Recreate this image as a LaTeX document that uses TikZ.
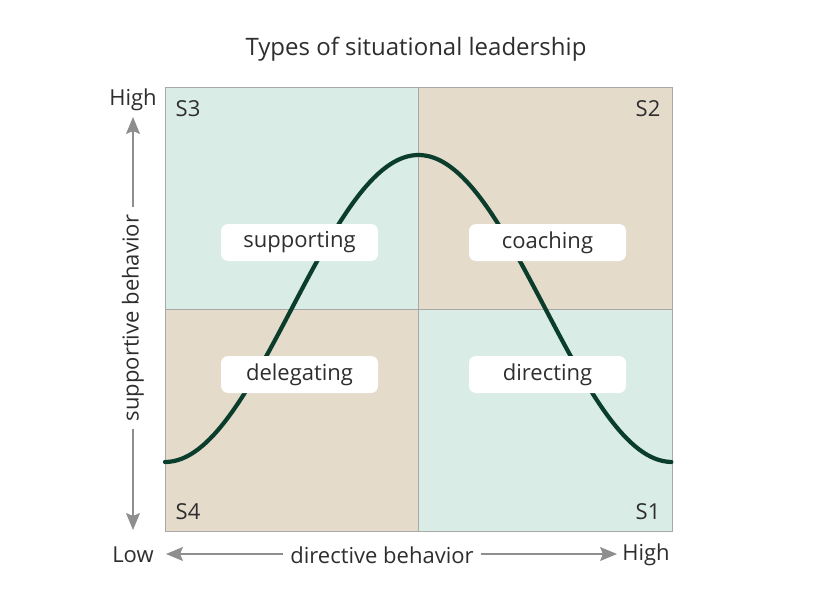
\documentclass[tikz,border=0pt]{standalone}
\usepackage{fontspec}
\setmainfont{Open Sans}
\usetikzlibrary{arrows.meta}
\definecolor{mint}{HTML}{D9ECE5}
\definecolor{tan}{HTML}{E4DBCB}
\definecolor{curvecol}{HTML}{0B3D2C}
\definecolor{axisgray}{HTML}{8E8E8E}
\definecolor{gridgray}{HTML}{A8A8A8}
\definecolor{txt}{HTML}{2E2E2E}
\begin{document}
\begin{tikzpicture}[x=1pt,y=-1pt,
  lbl/.style={font=\fontsize{22}{24}\selectfont, text=txt, inner sep=0pt},
  tag/.style={lbl, fill=white, rounded corners=7pt, minimum width=157pt, minimum height=37pt},
  axisarrow/.style={draw=axisgray, line width=1.1pt, -{Stealth[length=17pt,width=14pt,inset=3pt]}}]
\useasboundingbox (0,0) rectangle (822,610);
\fill[white] (0,0) rectangle (822,610);
% quadrants
\fill[mint] (165,87) rectangle (418,309);
\fill[tan] (418,87) rectangle (672,309);
\fill[tan] (165,309) rectangle (418,531);
\fill[mint] (418,309) rectangle (672,531);
\draw[gridgray, line width=0.9pt] (165,87) rectangle (672,531);
\draw[gridgray, line width=0.9pt] (418,87) -- (418,531);
\draw[gridgray, line width=0.9pt] (165,309) -- (672,309);
% curve
\draw[curvecol, line width=4.2pt, line cap=round]
  plot[domain=0:1, samples=120, smooth] ({165+507*\x}, {462-307*(1-cos(360*\x))/2});
% title
\node[lbl, font=\fontsize{24}{26}\selectfont] (title) at (416,49) {Types of situational leadership};
% quadrant codes
\node[lbl] (s3) at (188,109) {S3};
\node[lbl] (s2) at (648,109) {S2};
\node[lbl] (s4) at (188,512) {S4};
\node[lbl] (s1) at (648,512) {S1};
% style tags
\node[tag] (supp) at (299.5,242.5) {supporting};
\node[tag] (coach) at (547.5,242.5) {coaching};
\node[tag] (deleg) at (299.5,374.5) {delegating};
\node[tag] (direc) at (547.5,374.5) {directing};
% axes
\node[lbl] (yhigh) at (133,100) {High};
\node[lbl] (ylow) at (133,555) {Low};
\node[lbl] (xhigh) at (646,555) {High};
\node[lbl] (xlab) at (382,555) {directive behavior};
\node[lbl, rotate=90] (ylab) at (133,318) {supportive behavior};
\coordinate (uptip) at (133,117);
\coordinate (downtip) at (133,530);
\coordinate (lefttip) at (166,554);
\coordinate (righttip) at (617,554);
\draw[axisarrow] ([yshift=8pt]ylab.east) -- (uptip);
\draw[axisarrow] ([yshift=-8pt]ylab.west) -- (downtip);
\draw[axisarrow] ([xshift=-7pt]xlab.west |- lefttip) -- (lefttip);
\draw[axisarrow] ([xshift=7pt]xlab.east |- righttip) -- (righttip);
\end{tikzpicture}
\end{document}
